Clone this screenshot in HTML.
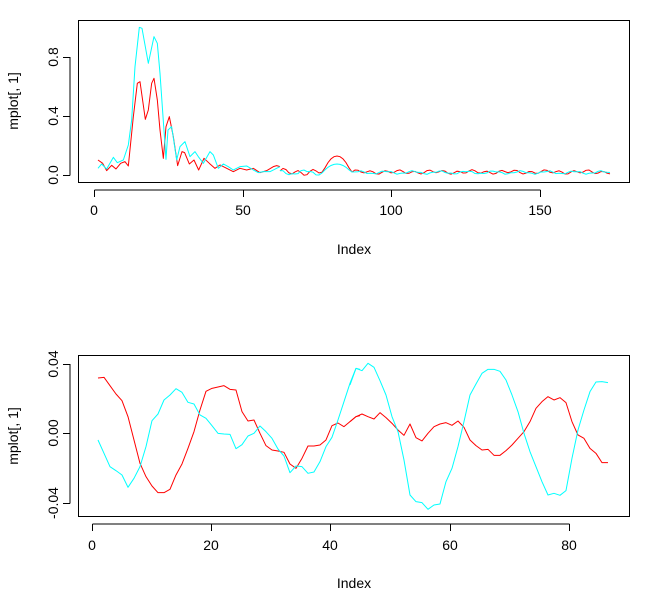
<!DOCTYPE html>
<html><head><meta charset="utf-8"><style>
body{margin:0;background:#fff}
svg{display:block;font-family:"Liberation Sans",sans-serif}
</style></head><body>
<svg id="s" width="661" height="599" viewBox="0 0 661 599" xmlns="http://www.w3.org/2000/svg">
<rect width="661" height="599" fill="#fff"/>
<g fill="none" stroke="#000" stroke-width="1">
<rect x="78.5" y="20.5" width="551" height="162"/>
<rect x="78.5" y="355.5" width="551" height="161"/>
<path d="M94.5 190h446M94.5 190v7M243.5 190v7M391.5 190v7M540.5 190v7"/>
<path d="M70 175.5h-7M70 175.5V57M70 116.5h-7M70 57.5h-7"/>
<path d="M92.5 524h477M92.5 524v7M211.5 524v7M330.5 524v7M450.5 524v7M569.5 524v7"/>
<path d="M70 503.5V364M70 503.5h-7M70 433.5h-7M70 364.5h-7"/>
</g>
<g font-size="14" fill="#000" text-anchor="middle">
<text x="94" y="215">0</text><text x="243" y="215">50</text><text x="391" y="215">100</text><text x="540" y="215">150</text>
<text x="354" y="254">Index</text>
<text transform="translate(58,175) rotate(-90)">0.0</text>
<text transform="translate(58,116) rotate(-90)">0.4</text>
<text transform="translate(58,57) rotate(-90)">0.8</text>
<text transform="translate(18,101) rotate(-90)">mplot[, 1]</text>
<text x="92" y="550">0</text><text x="211" y="550">20</text><text x="330" y="550">40</text><text x="450" y="550">60</text><text x="569" y="550">80</text>
<text x="354" y="588">Index</text>
<text transform="translate(58,503) rotate(-90)">-0.04</text>
<text transform="translate(58,433) rotate(-90)">0.00</text>
<text transform="translate(58,364) rotate(-90)">0.04</text>
<text transform="translate(18,436) rotate(-90)">mplot[, 1]</text>
</g>
<g fill="none" stroke-width="3" stroke-linejoin="round" transform="translate(80,350) scale(0.3333)">
<polyline stroke="#ff0000" points="54,84 72,82 90,107 108,132 126,152 144,200 162,270 180,340 198,380 216,408 234,428 252,428 270,418 288,375 306,342 324,295 342,245 360,180 378,124 396,115 414,111 432,107 450,118 468,120 486,185 504,213 522,210 540,250 558,287 576,300 594,303 612,307 630,342 648,355 666,325 684,288 702,288 720,285 738,270 756,227 774,219 792,230 810,215 828,200 840,197"/>
<polyline stroke="#00ffff" points="54,270 72,310 90,350 108,362 126,375 144,412 162,385 180,350 198,290 216,212 234,192 252,150 270,135 288,116 306,127 324,157 342,162 360,195 378,205 396,227 414,250 432,252 450,253 468,296 486,284 504,258 522,250 540,228 558,245 576,265 594,297 612,318 630,368 648,348 666,350 684,370 702,366 720,335 738,290 756,262 774,210 792,155 810,100 828,55 840,58"/>
</g>
<g fill="none" stroke-width="3" stroke-linejoin="round" transform="translate(350,350) scale(0.3333)">
<polyline stroke="#ff0000" points="0,215 18,200 36,192 54,200 72,207 90,188 108,203 126,220 144,240 162,256 180,222 198,263 216,273 234,250 252,230 270,222 288,218 306,226 324,213 342,232 360,270 378,287 396,300 414,298 432,316 450,316 468,302 486,285 504,265 522,245 540,215 558,175 576,155 594,140 612,150 630,143 648,158 666,215 684,255 702,265 720,295 738,310 756,338 774,338"/>
<polyline stroke="#00ffff" points="0,105 18,55 36,62 54,40 72,52 90,92 108,135 126,200 144,245 162,330 180,435 198,455 216,458 234,478 252,465 270,462 288,395 306,355 324,290 342,215 360,135 378,102 396,70 414,58 432,58 450,64 468,90 486,135 504,185 522,250 540,305 558,350 576,395 594,435 612,430 630,436 648,422 666,325 684,240 702,180 720,125 738,96 756,95 774,98"/>
</g>
<g fill="none" stroke-width="3" stroke-linejoin="round" transform="translate(80,20) scale(0.3333)">
<polyline stroke="#ff0000" points="54,420 68,430 80,452 95,436 108,447 122,430 135,425 145,438 160,290 172,190 180,185 196,298 205,270 215,190 222,175 232,240 240,330 250,415 258,320 268,290 280,350 293,437 306,395 314,398 328,432 342,420 356,450 372,415 388,430 405,445 420,435 440,445 460,455 480,445 500,450 520,445 540,458 560,452 580,440 590,437 600,440"/>
<polyline stroke="#00ffff" points="54,445 65,432 80,447 100,412 112,428 130,420 145,375 155,300 165,140 178,22 186,25 205,130 222,50 232,70 240,160 258,418 264,330 275,320 290,420 300,380 315,365 330,410 345,395 355,410 370,430 390,395 400,405 415,445 430,432 445,440 460,450 480,440 500,438 520,450 535,458 550,455 570,455 590,445 600,440"/>
</g>
<g fill="none" stroke-width="1">
<polyline id="rtail" stroke="#ff0000" points=""/>
<polyline id="ctail" stroke="#00ffff" points=""/>
</g>
<script>
(function(){
var r=[],c=[];
for(var x=280;x<=611;x+=3){
 var i=(x-280)/3;
 var f=x<330?1.6:1;
 var yr=172-f*(1.5*Math.sin(i*1.3)+0.8*Math.sin(i*0.5+1));
 var yc=172.5-f*(1.3*Math.sin(i*0.7+2)+0.6*Math.sin(i*1.9));
 if(x>=325&&x<=350){var d=(x-337)/7;yr=Math.min(yr,156+d*d*4);yc=Math.min(yc,164+d*d*2);}
 r.push(x+","+yr.toFixed(1));c.push(x+","+yc.toFixed(1));
}
document.getElementById("ctail").setAttribute("points",c.join(" "));
document.getElementById("rtail").setAttribute("points",r.join(" "));
})();
</script>
</svg>
</body></html>
